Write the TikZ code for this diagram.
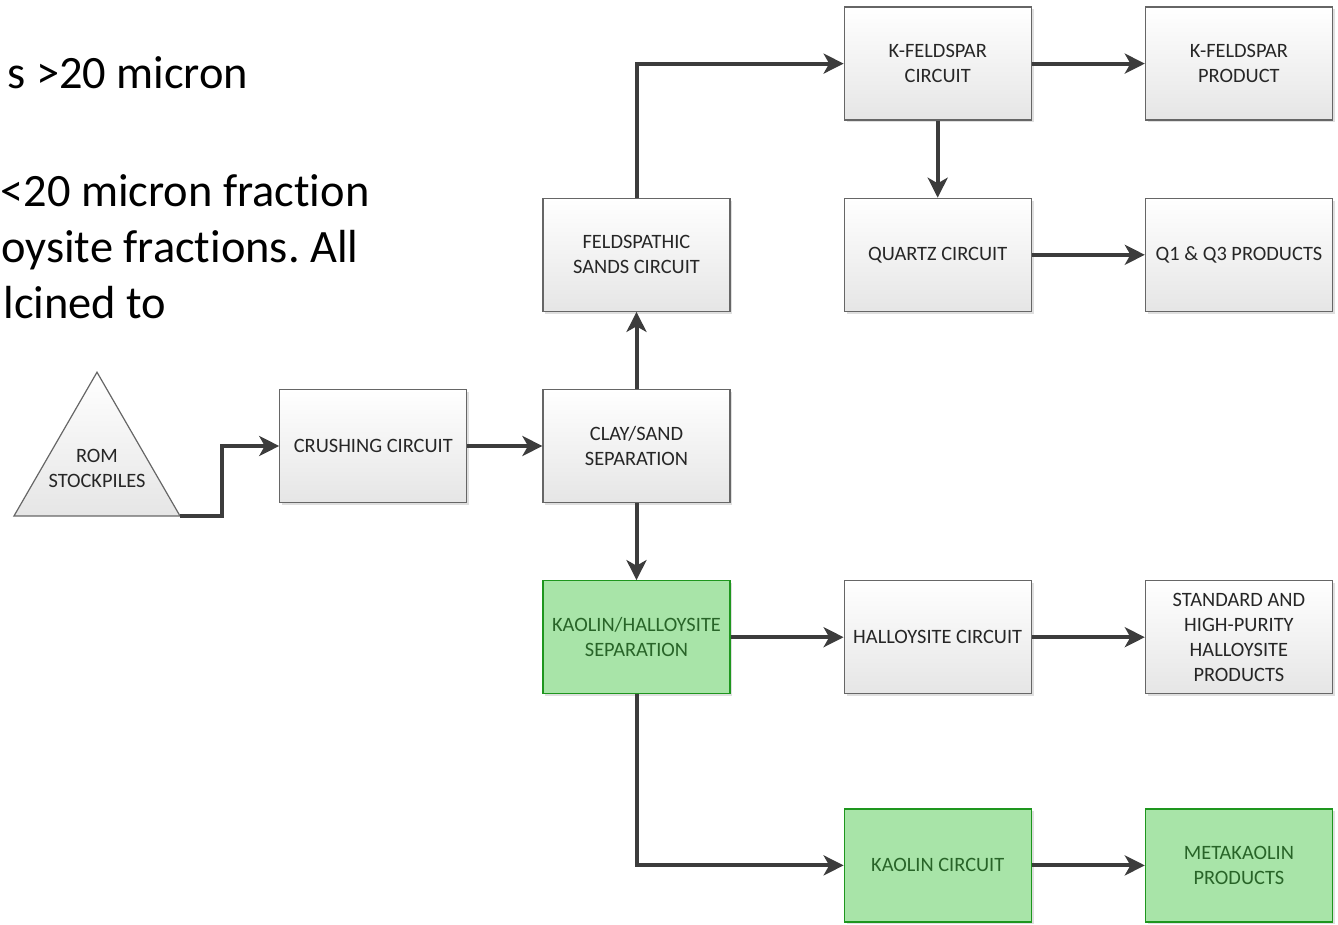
\documentclass[tikz,border=0pt]{standalone}
\usepackage{fontspec}
\setmainfont{Carlito}[Ligatures=NoCommon]
\usepackage{xcolor}
\usetikzlibrary{shapes.geometric,arrows.meta,positioning,shadows}
\frenchspacing

\definecolor{kgreen}{RGB}{168,228,168}
\definecolor{kborder}{RGB}{30,150,30}
\definecolor{ktext}{RGB}{40,100,40}
\definecolor{flowgray}{RGB}{60,60,60}

\begin{document}
\begin{tikzpicture}[x=0.5pt, y=-0.5pt, node distance=38.5pt and 56.5pt,
    box/.style={rectangle, draw=black!60, line width=0.6pt, top color=white, bottom color=black!10,
        minimum width=93.5pt, minimum height=56.5pt, inner sep=1pt, align=center, text=black!85,
        font=\fontsize{10.2}{12.5}\selectfont,
        drop shadow={opacity=0.25, shadow xshift=1.2pt, shadow yshift=-1.2pt}},
    greenbox/.style={box, draw=kborder, top color=kgreen, bottom color=kgreen, text=ktext},
    flow/.style={draw=flowgray, line width=2pt, -{Stealth[length=10pt, width=10pt, inset=2.8pt]}},
    note/.style={anchor=base west, inner sep=0pt, font=\fontsize{23.2}{28}\selectfont}]
    \useasboundingbox (0,0) rectangle (1338,925);

    % left text cut off at the slide edge
    \node [note] (note1) at (7,89) {s >20 micron};
    \node [note] (note2) at (0,207) {<20 micron fraction};
    \node [note] (note3) at (1,263) {oysite fractions. All};
    \node [note] (note4) at (3,318) {lcined to};

    \node [regular polygon, regular polygon sides=3, draw=black!60, line width=0.6pt, top color=white, bottom color=black!10,
        minimum size=95.8pt, inner sep=0pt, outer sep=0pt] (rom) at (97,468) {};
    \node [align=center, text=black!85, font=\fontsize{10.2}{12.5}\selectfont] (romtext) at (rom.center) {ROM\\STOCKPILES};

    \node [box] (clay) at (636.5,446) {CLAY/SAND\\SEPARATION};
    \node [box, left=37.5pt of clay] (crush) {CRUSHING CIRCUIT};
    \node [box, above=of clay] (feld) {FELDSPATHIC\\SANDS CIRCUIT};
    \node [box, right=of feld] (quartz) {QUARTZ CIRCUIT};
    \node [box, above=of quartz] (kfeld) {K-FELDSPAR\\CIRCUIT};
    \node [box, right=of kfeld] (kprod) {K-FELDSPAR\\PRODUCT};
    \node [box, right=of quartz] (qprod) {Q1 \& Q3 PRODUCTS};
    \node [greenbox, below=of clay] (ksep) {KAOLIN/HALLOYSITE\\SEPARATION};
    \node [box, right=of ksep] (hcirc) {HALLOYSITE CIRCUIT};
    \node [box, right=of hcirc] (hprod) {STANDARD AND\\HIGH-PURITY\\HALLOYSITE\\PRODUCTS};
    \node [greenbox, below=57pt of hcirc] (kcirc) {KAOLIN CIRCUIT};
    \node [greenbox, right=of kcirc] (mprod) {METAKAOLIN\\PRODUCTS};

    \draw [flow] (rom.corner 3) -- ++(42,0) |- (crush);
    \draw [flow] (crush) -- (clay);
    \draw [flow] (clay) -- (feld);
    \draw [flow] (feld) |- (kfeld);
    \draw [flow] (kfeld) -- (kprod);
    \draw [flow] (kfeld) -- (quartz);
    \draw [flow] (quartz) -- (qprod);
    \draw [flow] (clay) -- (ksep);
    \draw [flow] (ksep) -- (hcirc);
    \draw [flow] (hcirc) -- (hprod);
    \draw [flow] (ksep) |- (kcirc);
    \draw [flow] (kcirc) -- (mprod);
\end{tikzpicture}
\end{document}
